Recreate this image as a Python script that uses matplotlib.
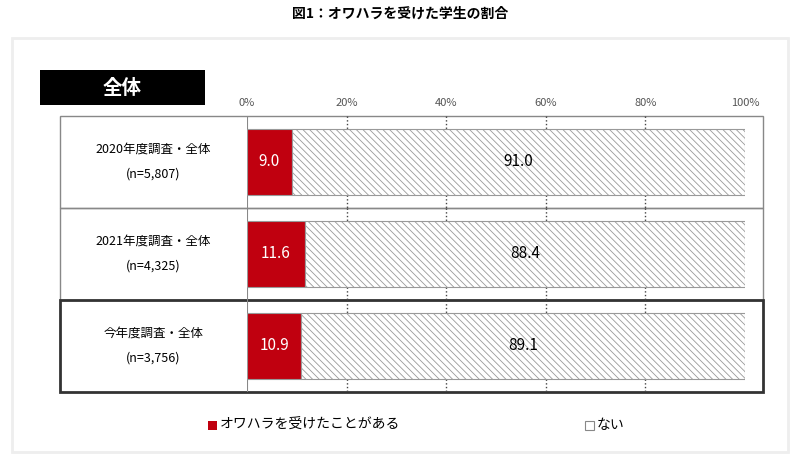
import matplotlib.pyplot as plt
from matplotlib.patches import Rectangle

plt.rcParams['font.family'] = 'Noto Sans CJK JP'
plt.rcParams['hatch.color'] = '#d0d0d0'
plt.rcParams['hatch.linewidth'] = 0.6

labels = ['2020年度調査・全体\n(n=5,807)', '2021年度調査・全体\n(n=4,325)', '今年度調査・全体\n(n=3,756)']
yes = [9.0, 11.6, 10.9]
no = [91.0, 88.4, 89.1]
ticks = [0, 20, 40, 60, 80, 100]
red = '#c0000f'

fig = plt.figure(figsize=(8, 4.58), dpi=100)
W, H = 800, 458
def fx(px): return px / W
def fy(py): return 1 - py / H

fig.text(0.5, fy(14), '図1：オワハラを受けた学生の割合', ha='center', va='center', fontsize=10, weight='bold')
fig.patches.append(Rectangle((fx(12), fy(452)), fx(776), 414 / H, transform=fig.transFigure,
                             fill=False, ec='#eeeeee', lw=2))
fig.patches.append(Rectangle((fx(40), fy(105)), fx(165), 35 / H, transform=fig.transFigure,
                             fc='black', ec='none'))
fig.text(fx(122), fy(88), '全体', ha='center', va='center', fontsize=14, color='white', weight='bold')

ax = fig.add_axes([fx(247), fy(392), fx(498), 276 / H])
ax.set_xlim(0, 100)
ax.set_ylim(3, 0)
for s in ax.spines.values():
    s.set_visible(False)
ax.set_yticks([])
ax.set_xticks(ticks)
ax.set_xticklabels([f'{t}%' for t in ticks], fontsize=8, color='#555555')
ax.xaxis.tick_top()
ax.tick_params(axis='x', length=0, pad=6)

left, right = -37.55, 103.6
bh = 0.71
for i in range(3):
    # gridlines only in the gaps between bars
    for t in ticks[1:-1]:
        ax.plot([t, t], [i, i + 0.145], ls=':', color='#444444', lw=1)
        ax.plot([t, t], [i + 0.855, i + 1.0], ls=':', color='#444444', lw=1)
    lw = 2 if i == 2 else 1
    ec = '#333333' if i == 2 else '#888888'
    ax.add_patch(Rectangle((left, i), right - left, 1, fill=False, ec=ec, lw=lw, clip_on=False, zorder=1))
    ax.text(left / 2, i + 0.5, labels[i], ha='center', va='center', fontsize=9, linespacing=2.2)

ax.axvline(0, color='#888888', lw=1.5)
y = [i + 0.5 for i in range(3)]
ax.barh(y, yes, height=bh, color=red, ec='#999999', lw=0.8, zorder=3)
ax.barh(y, no, left=yes, height=bh, color='white', ec='#999999', lw=0.8,
        hatch='\\\\\\\\\\', zorder=3)
for i in range(3):
    ax.text(yes[i] / 2, y[i], f'{yes[i]:.1f}', ha='center', va='center', color='white', fontsize=11, zorder=4)
    ax.text(yes[i] + no[i] / 2, y[i], f'{no[i]:.1f}', ha='center', va='center', color='black', fontsize=11, zorder=4)

fig.patches.append(Rectangle((fx(208), fy(430)), 9 / W, 9 / H, transform=fig.transFigure, fc=red, ec='none'))
fig.text(fx(220), fy(425), 'オワハラを受けたことがある', va='center', fontsize=10)
fig.patches.append(Rectangle((fx(585), fy(430)), 9 / W, 9 / H, transform=fig.transFigure, fc='white', ec='#888888', lw=0.8))
fig.text(fx(597), fy(425), 'ない', va='center', fontsize=10)

fig.savefig('out.png', dpi=100)
